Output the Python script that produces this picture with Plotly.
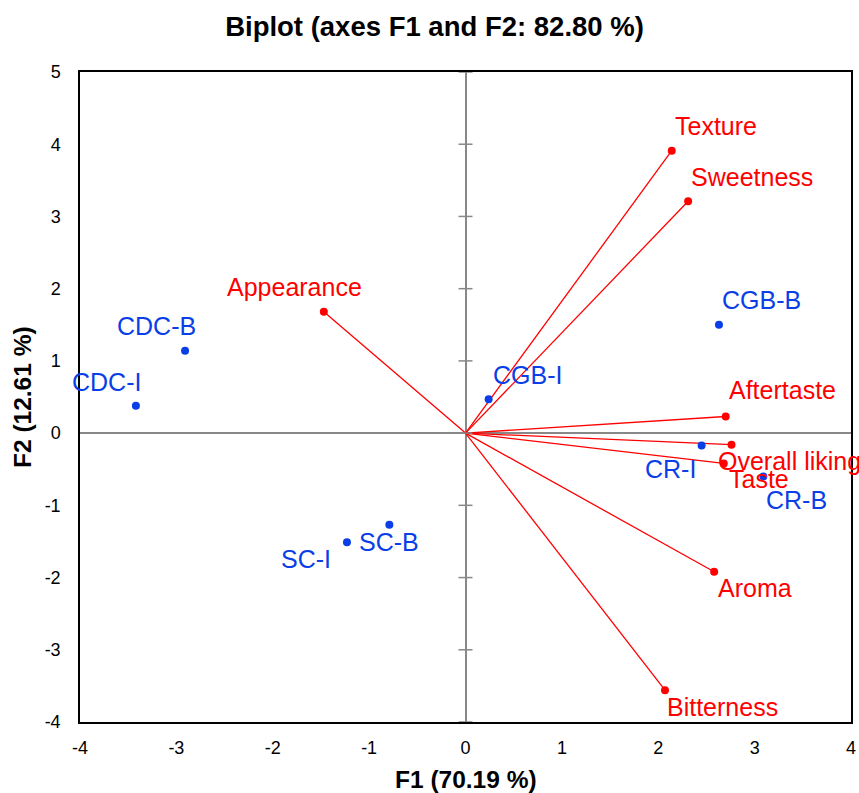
import plotly.graph_objects as go

# Variables (loadings, scaled)
var_names = ["Texture", "Sweetness", "Appearance", "Aftertaste", "Overall liking", "Taste", "Aroma", "Bitterness"]
var_f1 = [2.14, 2.31, -1.47, 2.70, 2.76, 2.68, 2.58, 2.07]
var_f2 = [3.91, 3.21, 1.68, 0.23, -0.16, -0.42, -1.92, -3.56]

# Observations (scores)
obs_names = ["CGB-B", "CGB-I", "CDC-B", "CDC-I", "CR-I", "CR-B", "SC-B", "SC-I"]
obs_f1 = [2.63, 0.24, -2.91, -3.42, 2.45, 3.09, -0.79, -1.23]
obs_f2 = [1.50, 0.47, 1.14, 0.38, -0.17, -0.60, -1.27, -1.51]

x_ticks = [-4, -3, -2, -1, 0, 1, 2, 3, 4]
y_ticks = [-4, -3, -2, -1, 0, 1, 2, 3, 4, 5]

# label offsets in pixels (dx, dy) relative to the point
var_offsets = {
    "Texture": (44, -25), "Sweetness": (64, -24), "Appearance": (-29, -25),
    "Aftertaste": (57, -27), "Overall liking": (58, 16), "Taste": (35, 16),
    "Aroma": (41, 16), "Bitterness": (57, 17),
}
obs_offsets = {
    "CGB-B": (43, -25), "CGB-I": (39, -24), "CDC-B": (-29, -25), "CDC-I": (-29, -24),
    "CR-I": (-31, 24), "CR-B": (33, 24), "SC-B": (0, 17), "SC-I": (-41, 17),
}

RED = "#FF0000"
BLUE = "#0A3EE6"
FONT = "Liberation Sans, Arial, sans-serif"

W, H = 859, 793

fig = go.Figure()

# vectors from origin
vx, vy = [], []
for a, b in zip(var_f1, var_f2):
    vx += [0, a, None]
    vy += [0, b, None]
fig.add_trace(go.Scatter(x=vx, y=vy, mode="lines", line=dict(color=RED, width=1.3),
                         hoverinfo="skip", showlegend=False))

# tick marks on the vertical zero line
fig.add_trace(go.Scatter(x=[0] * len(y_ticks), y=y_ticks, mode="markers",
                         marker=dict(symbol="line-ew", size=10, line=dict(color="#888888", width=1.5)),
                         hoverinfo="skip", showlegend=False, cliponaxis=False))

fig.add_trace(go.Scatter(x=var_f1, y=var_f2, mode="markers", marker=dict(color=RED, size=8),
                         text=var_names, showlegend=False))
fig.add_trace(go.Scatter(x=obs_f1, y=obs_f2, mode="markers", marker=dict(color=BLUE, size=8),
                         text=obs_names, showlegend=False))

ann = []
for n, a, b in zip(var_names, var_f1, var_f2):
    dx, dy = var_offsets[n]
    ann.append(dict(x=a, y=b, xref="x", yref="y", text=n, showarrow=False,
                    xanchor="center", yanchor="middle", xshift=dx, yshift=-dy,
                    font=dict(color=RED, size=25, family=FONT)))
for n, a, b in zip(obs_names, obs_f1, obs_f2):
    dx, dy = obs_offsets[n]
    ann.append(dict(x=a, y=b, xref="x", yref="y", text=n, showarrow=False,
                    xanchor="center", yanchor="middle", xshift=dx, yshift=-dy,
                    font=dict(color=BLUE, size=25, family=FONT)))

# axis titles
ann.append(dict(x=0.5, y=0, xref="paper", yref="paper", text="<b>F1 (70.19 %)</b>", showarrow=False,
                xanchor="center", yanchor="middle", yshift=-57,
                font=dict(color="black", size=24.5, family=FONT)))
ann.append(dict(x=0, y=0.5, xref="paper", yref="paper", text="<b>F2 (12.61 %)</b>", showarrow=False,
                xanchor="center", yanchor="middle", xshift=-58, textangle=-90,
                font=dict(color="black", size=24.5, family=FONT)))

fig.update_layout(
    width=W, height=H,
    margin=dict(l=80, r=8, t=72, b=71, autoexpand=False),
    paper_bgcolor="white", plot_bgcolor="white",
    title=dict(text="<b>Biplot (axes F1 and F2: 82.80 %)</b>", x=434.5 / W, xref="container",
               xanchor="center", y=1 - 26 / H, yref="container", yanchor="middle",
               font=dict(color="black", size=27.5, family=FONT)),
    annotations=ann,
    font=dict(family=FONT, color="black"),
)
fig.update_xaxes(range=[-4, 4], tickvals=x_ticks, ticktext=[str(v) for v in x_ticks],
                 showgrid=False, zeroline=True, zerolinecolor="#888888", zerolinewidth=2,
                 showline=True, linecolor="black", linewidth=1.5, mirror=True, automargin=False,
                 ticks="", ticklabelstandoff=9, tickfont=dict(size=18, color="black", family=FONT))
fig.update_yaxes(range=[-4, 5], tickvals=y_ticks, ticktext=[str(v) for v in y_ticks],
                 showgrid=False, zeroline=True, zerolinecolor="#888888", zerolinewidth=2,
                 showline=True, linecolor="black", linewidth=1.5, mirror=True, automargin=False,
                 ticks="", ticklabelstandoff=14, tickfont=dict(size=18, color="black", family=FONT))

fig.write_html("out.html", config={"displayModeBar": False},
               post_script="document.body.style.margin='0';document.body.style.overflow='hidden';"
                           "document.documentElement.style.overflow='hidden';")
